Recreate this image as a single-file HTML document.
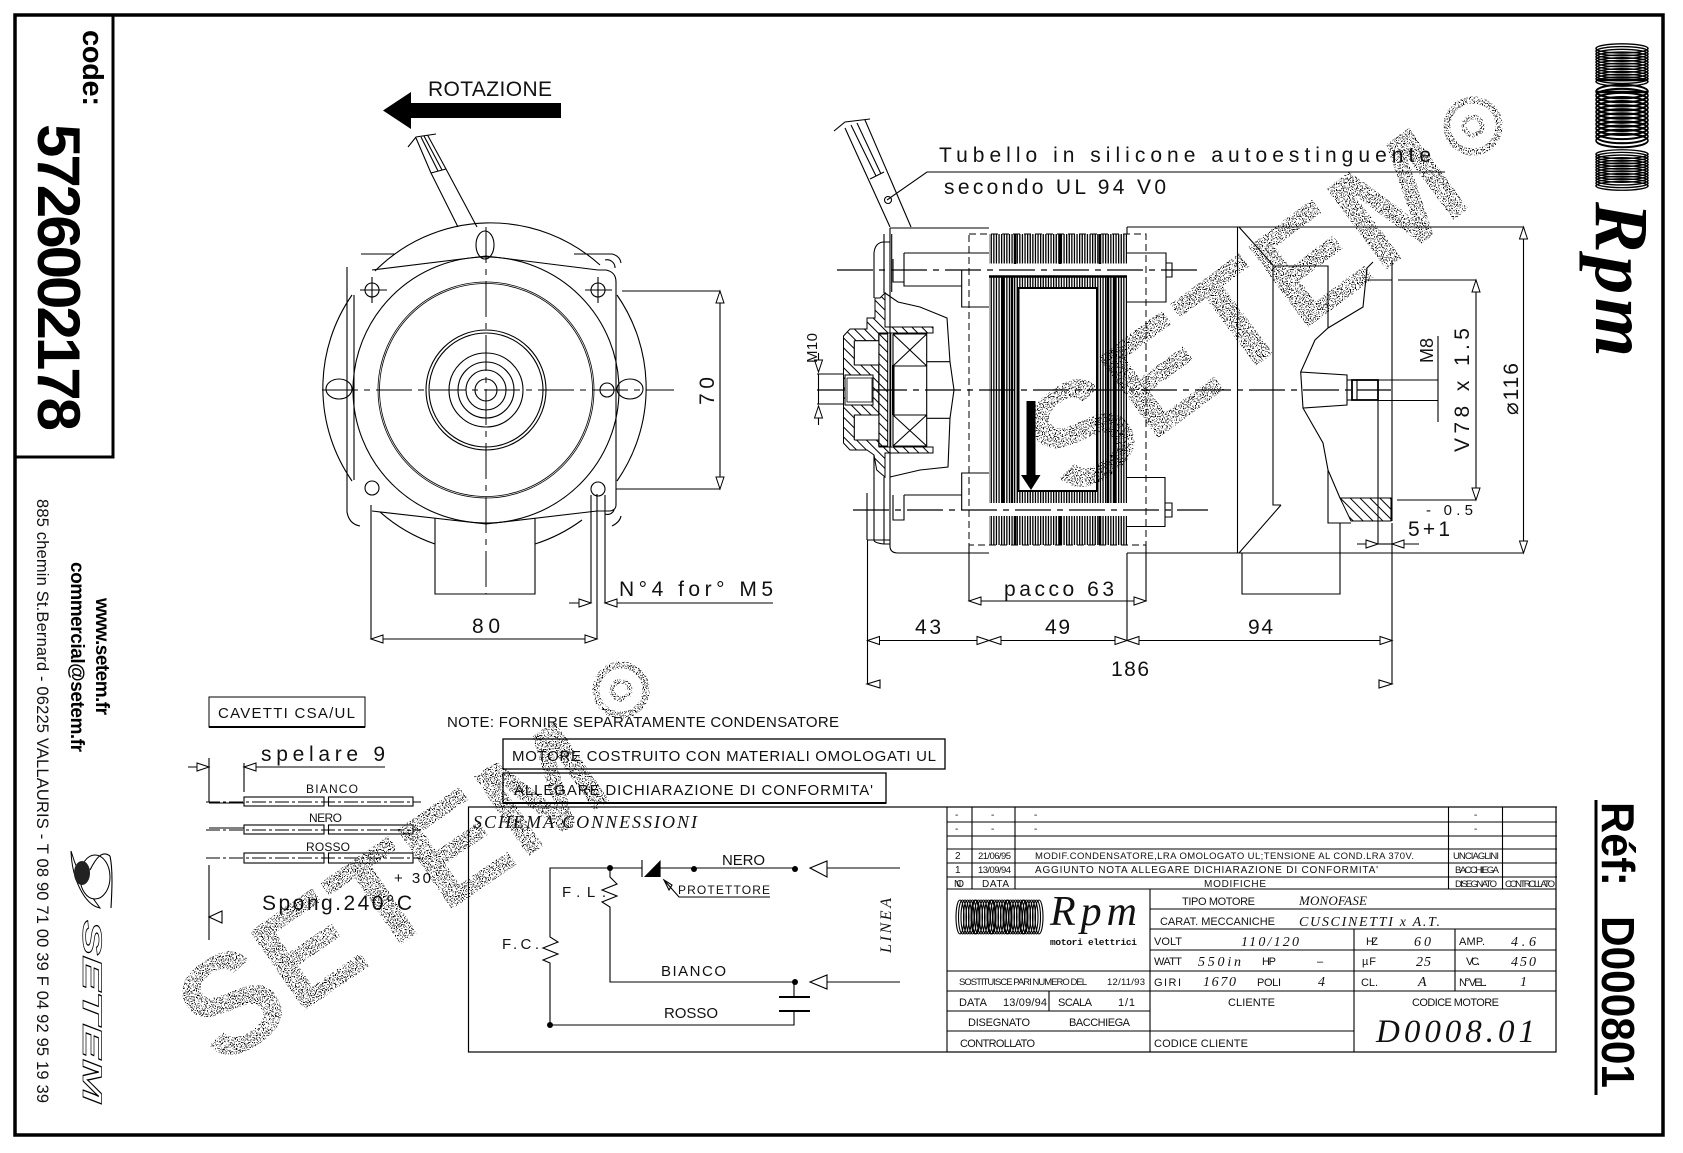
<!DOCTYPE html>
<html><head><meta charset="utf-8"><style>
html,body{margin:0;padding:0;background:#fff}
svg{display:block}
.l{fill:none;stroke:#000;stroke-width:1.1}
.t{fill:none;stroke:#000;stroke-width:.8}
.cl{fill:none;stroke:#000;stroke-width:1;stroke-dasharray:36 6 6 6}
.ds{fill:none;stroke:#000;stroke-width:1;stroke-dasharray:7 4}
text{font-family:"Liberation Sans",sans-serif;fill:#111}
.b{font-weight:700;fill:#000}
.c{font-size:21px}.m{font-size:15px}.s{font-size:12px}.x{font-size:9.5px}.y{font-size:11px}
.i{font-family:"Liberation Serif",serif;font-style:italic}
.st{font-weight:700;fill:#000}
</style></head><body>
<svg xmlns="http://www.w3.org/2000/svg" width="1683" height="1153" viewBox="0 0 1683 1153">
<defs>
<marker id="a" markerUnits="userSpaceOnUse" markerWidth="16" markerHeight="12" refX="13" refY="5" orient="auto-start-reverse"><path d="M13 5L1 1V9Z" fill="#fff" stroke="#000"/></marker>
<pattern id="vl" width="2.6" height="8" patternUnits="userSpaceOnUse"><rect width="1.3" height="8" fill="#000"/></pattern>
<pattern id="hd" width="7" height="7" patternUnits="userSpaceOnUse" patternTransform="rotate(-45)"><rect width="1" height="7" fill="#000"/></pattern>
<filter id="sp" x="-5%" y="-5%" width="110%" height="110%" color-interpolation-filters="sRGB">
<feTurbulence type="fractalNoise" baseFrequency="0.85" numOctaves="1" seed="7"/>
<feColorMatrix values="0 0 0 0 0 0 0 0 0 0 0 0 0 0 0 20 0 0 0 -11"/>
<feComposite in2="SourceAlpha" operator="in"/>
</filter>
<g id="coil" style="fill:none;stroke:#000;stroke-width:1.5">
<ellipse cx="0" cy="-18" rx="26" ry="5"/><ellipse cx="0" cy="-15" rx="26" ry="5"/><ellipse cx="0" cy="-12" rx="26" ry="5"/><ellipse cx="0" cy="-9" rx="26" ry="5"/><ellipse cx="0" cy="-6" rx="26" ry="5"/><ellipse cx="0" cy="-3" rx="26" ry="5"/><ellipse cx="0" cy="0" rx="26" ry="5"/><ellipse cx="0" cy="3" rx="26" ry="5"/><ellipse cx="0" cy="6" rx="26" ry="5"/><ellipse cx="0" cy="9" rx="26" ry="5"/><ellipse cx="0" cy="12" rx="26" ry="5"/><ellipse cx="0" cy="15" rx="26" ry="5"/><ellipse cx="0" cy="18" rx="26" ry="5"/>
</g>
<g id="hc" style="fill:none;stroke:#000;stroke-width:1.1">
<ellipse cx="-8" cy="0" rx="4" ry="17"/><ellipse cx="-5.500" cy="0" rx="4" ry="17"/><ellipse cx="-3" cy="0" rx="4" ry="17"/><ellipse cx="-.5" cy="0" rx="4" ry="17"/><ellipse cx="2" cy="0" rx="4" ry="17"/><ellipse cx="4.500" cy="0" rx="4" ry="17"/><ellipse cx="7" cy="0" rx="4" ry="17"/>
</g>
</defs>
<rect width="1683" height="1153" fill="#fff"/>

<!-- frame -->
<rect x="15" y="15" width="1648" height="1120" fill="none" stroke="#000" stroke-width="3.5"/>
<path d="M113 15V457H15" fill="none" stroke="#000" stroke-width="3"/>
<text class="b" transform="translate(83,30) rotate(90)" font-size="29" textLength="76">code:</text>
<text class="b" transform="translate(38,124) rotate(90)" font-size="60" textLength="307">5726002178</text>
<text transform="translate(37,499) rotate(90)" font-size="16.5" textLength="604">885 chemin St.Bernard - 06225 VALLAURIS - T 08 90 71 00 39 F 04 92 95 19 39</text>
<text class="b" transform="translate(71,562) rotate(90)" font-size="19" textLength="190">commercial@setem.fr</text>
<text class="b" transform="translate(96,598) rotate(90)" font-size="19" textLength="117">www.setem.fr</text>
<!-- bird logo -->
<path d="M71 851C72 880 85 905 100 908C90 895 78 875 71 851Z" fill="#fff" stroke="#000"/>
<ellipse cx="95" cy="877" rx="15" ry="22" fill="#fff" stroke="#000"/>
<ellipse cx="82" cy="873" rx="8" ry="12" fill="#222"/>
<path d="M110 856C102 850 96 858 90 870M110 856C113 870 112 890 111 908" class="l"/>
<text class="b" transform="translate(83,920) rotate(90)" font-size="27" font-style="italic" textLength="183" lengthAdjust="spacingAndGlyphs" style="fill:none;stroke:#000;stroke-width:.7">SETEM</text>

<!-- right logo -->
<use href="#coil" transform="translate(1622,65) scale(1,.92)"/>
<use href="#coil" transform="translate(1622,116) scale(1,1.36)"/>
<use href="#coil" transform="translate(1622,170) scale(1,.88)"/>
<path d="M1596 80H1648M1596 92H1648" stroke="#000" stroke-width="2.500" fill="none"/>
<text class="b i" transform="translate(1596,202) rotate(90)" font-size="76" textLength="155" style="fill:#000">Rpm</text>
<text class="b" transform="translate(1602,802) rotate(90)" font-size="46" textLength="84" lengthAdjust="spacingAndGlyphs">Réf:</text>
<text class="b" transform="translate(1602,916) rotate(90)" font-size="46" textLength="172" lengthAdjust="spacingAndGlyphs">D000801</text>
<path d="M1596 800V1095" stroke="#000" stroke-width="3" fill="none"/>

<!-- ROTAZIONE -->
<text class="c" x="428" y="96" textLength="124">ROTAZIONE</text>
<path d="M561 103H411V92L383 110.5L411 129V118H561Z" fill="#000"/>

<!-- front view -->
<g class="l">
<path d="M352 295A163 163 0 0 0 352 481M375 271A163 163 0 0 1 600 265M617 295A163 163 0 0 1 617 481M380 512A163 163 0 0 0 435 544M535 544A163 163 0 0 0 582 520"/>
<circle cx="486" cy="390" r="133"/>
<circle cx="486" cy="390" r="60"/><circle cx="486" cy="390" r="57"/><circle cx="486" cy="390" r="37"/><circle cx="486" cy="390" r="28"/><circle cx="486" cy="390" r="20"/><circle cx="486" cy="390" r="11"/>
<ellipse cx="485" cy="245" rx="9" ry="14"/><ellipse cx="339" cy="389" rx="13" ry="10"/><ellipse cx="630" cy="389" rx="13" ry="10"/><circle cx="607" cy="390" r="7"/>
<circle cx="372" cy="290" r="7"/><circle cx="598" cy="290" r="7"/><circle cx="372" cy="488" r="7"/><circle cx="598" cy="489" r="7"/>
<path d="M372 270L486 256L598 270H606Q616 272 616 282V505Q616 510 610 511H597L486 524L372 511M354 295V480"/>
<path d="M347 267V512Q349 524 360 526M361 254H395M574 254H612Q620 256 621 263M612 526Q620 522 621 516M605 260a8 8 0 0 1 10 8M605 514a7 7 0 0 0 9 -4"/>
<path d="M435 518V594H535V518"/>
<path d="M458 227L431 173M477 227L446 169M431 173L416 138M446 169L427.500 135M408 147L416 137L436 134M421 137L438 171M424 136L442 170M431 173L446 169"/>
<path d="M360 290h27M372 277v26M585 290h27M598 277v26"/>
<path d="M622 291H720M616 489H720M371 505V639M597 494V639M591 495V603M605 495V603"/>
<path d="M720 291V489" marker-start="url(#a)" marker-end="url(#a)"/>
<path d="M371 639H597" marker-start="url(#a)" marker-end="url(#a)"/>
<path d="M569 603H591" marker-end="url(#a)"/>
<path d="M773 603H605" marker-end="url(#a)"/>
</g>
<circle cx="486" cy="390" r="108" fill="none" stroke="#000" stroke-width=".8"/><circle cx="486" cy="390" r="106.500" fill="none" stroke="#000" stroke-width=".8"/>
<path class="cl" d="M486 227V594M322 390H674"/>
<text class="c" transform="translate(714,405) rotate(-90)" textLength="28">70</text>
<text class="c" x="472" y="633" textLength="28">80</text>
<text class="c" x="619" y="596" textLength="154">N°4 for° M5</text>

<!-- side view -->
<g class="l">
<path d="M890 228H989M989 553H898Q890 553 890 546V228M884 234V293M891.700 234V292M884 477V544H890"/>
<path d="M874 298V253Q875 243 883 242H890M874 455V540Q874 543 884 544"/>
<path d="M867 493V540"/>
<path d="M885 293L898 302L920 307L947 318L950 362L954 390L950 418L948 467L920 470L890 477"/>
<path d="M1127 227H1237.500V553H1127M1127 234V227M1237.500 227H1523.500M1237.500 553H1523.500"/>
<path d="M1239 227L1273 265M1239 553L1281 505M1273 265V505H1281"/>
<path d="M1273 266H1328V328M1392 260V521M1366 280H1392M1373 262L1367 268L1363 307L1328 328L1315 340L1300.700 372L1347 375V405L1303 408L1300.700 372M1303 408L1323 443L1328 470L1340 498M1328 470V523H1351M1340 523V594H1242V553"/>
<path d="M1347 380H1352M1347 400H1352"/>
<rect x="1352" y="380" width="26" height="20" stroke-width="1.800"/><path d="M1357 380V400M1378 400V544"/>
<path d="M904 253H989M904 253V286H961.700M893 259V282H904M961.700 270V307H989M904 495H961.700V473H989M961.700 495V510M904 495V520H893V495"/>
<path d="M1127 253H1166V302H1127M1166 263H1172V277H1166M1127 477.500H1165V526.500H1127M1165 503H1172V517H1165"/>
<path d="M867 540H890"/>
<path d="M1398 280H1476M1397 500H1476M1378 380H1438M1378 400.500H1438M1438 336V422"/>
<path d="M1476 280V500" marker-start="url(#a)" marker-end="url(#a)"/>
<path d="M1523.500 227V553" marker-start="url(#a)" marker-end="url(#a)"/>
<path d="M1357 544H1378" marker-end="url(#a)"/>
<path d="M1419 544H1392" marker-end="url(#a)"/>
<path d="M1378 544H1392"/>
<path d="M1445 172H927L887 200"/>
<circle cx="888" cy="200" r="3.500"/>
<path d="M890 227L845 128M911 227L865 120M834 131L845 122L870 119M851 125L876 176M857 123L881 174M870 179L884 172"/>
<path d="M969 545V601M1146 545V601M1127 553V640M867.500 540V684M1392 523V684"/>
<path d="M969 601H1146" marker-start="url(#a)" marker-end="url(#a)"/>
<path d="M867.500 640.500H989" marker-start="url(#a)" marker-end="url(#a)"/>
<path d="M989 640.500H1127" marker-start="url(#a)" marker-end="url(#a)"/>
<path d="M1127 640.500H1392" marker-start="url(#a)" marker-end="url(#a)"/>
<path d="M867 684l13-4v8zM1392 684l-13-4v8z" fill="#fff"/>
<path d="M817 374H843M817 404H843M818.500 374V404"/>
<path d="M818.500 353V372" marker-end="url(#a)"/>
<path d="M818.500 425V406" marker-end="url(#a)"/>
</g>
<!-- laminations -->
<rect x="989" y="234" width="138" height="29.500" fill="url(#vl)"/>
<rect x="989" y="516" width="138" height="29" fill="url(#vl)"/>
<path d="M989 275.500H1127V503H989ZM1018.500 288V491H1097V288Z" fill="url(#vl)" fill-rule="evenodd"/>
<rect x="1018.500" y="288" width="78.500" height="203" fill="none" stroke="#000" stroke-width="2"/>
<path d="M989 276.500H1127" stroke="#000" stroke-width="2.500"/>
<path d="M1003 276V503M1012 276V503M1108 276V503M1115 276V503M1015 234V264M1060 234V264M1100 234V264M1015 516V545M1060 516V545M1100 516V545" stroke="#000" stroke-width="2.500"/>
<path d="M1026.500 401H1035.500V475H1040.500L1031 490L1021 475H1026.500Z" fill="#000"/>
<path class="ds" d="M969 234H1146V545H969Z"/>
<path class="cl" d="M837 270H1203M853 510H1208M817 390H1391" style="stroke-width:1.200"/>
<!-- bearing section -->
<path d="M843.500 336L850 329H867V318H875V298H880L885 293V327H933V333H879V447H933V453H885V477L876.700 470L874 455L867 450H850L843.500 443Z" fill="url(#hd)" stroke="#000"/>
<rect x="878.700" y="334" width="9" height="112" fill="url(#hd)" stroke="#000"/>
<rect x="854.300" y="340.700" width="24" height="24.300" fill="#fff"/>
<rect x="854.300" y="415" width="24" height="25" fill="#fff"/>
<rect x="845" y="375" width="28" height="30" fill="#fff" stroke="#000"/>
<rect x="847" y="378" width="25" height="24" fill="none" stroke="#000" stroke-width=".8"/>
<g class="l"><path d="M854.300 340.700H878.700M854.300 340.700V365H878.700M854.300 440V415H878.700M854.300 440H878.700"/>
<path d="M890.700 333V447M893 334H926.700V366H893M893 334V446M893 415H926.700V446H893M893 366V415M926.700 366V415M893 334L926.700 366M926.700 334L893 366M893 415L926.700 446M926.700 415L893 446M926.700 361.700H950M926.700 418.300H950"/>
</g>
<rect x="892" y="365" width="2.500" height="50" fill="#000"/>
<!-- bottom hatch -->
<path d="M1340 498H1391V521H1351Z" fill="url(#hd)" stroke="#000"/>

<text class="c" x="939" y="162" textLength="492">Tubello in silicone autoestinguente</text>
<text class="c" x="944" y="194" textLength="222">secondo UL 94 V0</text>
<text class="c" x="1004" y="596" textLength="110">pacco 63</text>
<text class="c" x="915" y="634" textLength="26">43</text>
<text class="c" x="1045" y="634" textLength="25">49</text>
<text class="c" x="1248" y="634" textLength="25">94</text>
<text class="c" x="1111" y="676" textLength="38">186</text>
<text class="m" transform="translate(817,363) rotate(-90)" textLength="30">M10</text>
<text style="font-size:18px" transform="translate(1433,363) rotate(-90)" textLength="25">M8</text>
<text class="c" transform="translate(1469,452) rotate(-90)" textLength="124">V78 x 1.5</text>
<text class="c" transform="translate(1518,415) rotate(-90)" textLength="52">⌀116</text>
<text class="m" x="1426" y="515" textLength="47">- 0.5</text>
<text class="c" x="1408" y="536" textLength="42">5 + 1</text>

<!-- cables -->
<rect x="209" y="697" width="156" height="30" fill="none" stroke="#000"/><path d="M209 727H365" stroke="#000" stroke-width="2"/>
<text class="m" x="218" y="718" textLength="137">CAVETTI CSA/UL</text>
<text class="m" x="447" y="727" textLength="392">NOTE: FORNIRE SEPARATAMENTE CONDENSATORE</text>
<rect x="503" y="739" width="442" height="30" fill="none" stroke="#000" stroke-width="1.300"/>
<text class="m" x="512" y="761" textLength="424">MOTORE COSTRUITO CON MATERIALI OMOLOGATI UL</text>
<rect x="503" y="773" width="383" height="30" fill="none" stroke="#000" stroke-width="1.300"/><path d="M503 803H886" stroke="#000" stroke-width="2"/>
<text class="m" x="514" y="795" textLength="359">ALLEGARE DICHIARAZIONE DI CONFORMITA'</text>
<text class="c" x="261" y="761" textLength="124">spelare 9</text>
<g class="l">
<path d="M188 767H209" marker-end="url(#a)"/><path d="M385 767H244" marker-end="url(#a)"/>
<path d="M209 758V802M244 763V792"/>
<rect x="244" y="797" width="80" height="9"/><rect x="328.500" y="797" width="84.500" height="9"/>
<rect x="244" y="825" width="80" height="9"/><rect x="328.500" y="825" width="84.500" height="9"/>
<rect x="244" y="853" width="80" height="10"/><rect x="328.500" y="853" width="84.500" height="10"/>
<path d="M209 865V940M209 917L222 911V923Z"/>
</g>
<path class="cl" d="M206 802H421M206 830H421M206 858H421" style="stroke-dasharray:14 3 3 3"/>
<path d="M209 803H244M209 828H244" stroke="#000"/>
<text class="s" x="306" y="793" textLength="52">BIANCO</text>
<text class="s" x="309" y="822" textLength="33">NERO</text>
<text class="s" x="306" y="851" textLength="44">ROSSO</text>
<text class="m" x="394" y="883" textLength="37">+ 30</text>
<text class="c" x="262" y="910" textLength="150">Spong.240°C</text>

<!-- schema -->
<rect x="468.500" y="807" width="1087.500" height="245" fill="none" stroke="#000" stroke-width="1.200"/>
<text class="i" x="473" y="828" font-size="18" textLength="224">SCHEMA CONNESSIONI</text>
<g class="l">
<path d="M642 868H550V937L558 942L543 948L558 954L543 960L550 963V1025H794V1011M794 997V982H610V907L602 902L617 896L602 890L617 884L610 877V868M660 868H795" />
<path d="M827 868H900M827 982H900M810 868L827 861V877ZM810 982L827 975V989Z"/>
<path d="M642 860V877M770 897H679L664 880"/>
<path d="M664 880l8 5l-3 5Z"/>
</g>
<path d="M779 997H810M779 1011H810" stroke="#000" stroke-width="2"/>
<path d="M644 877H660.600V860Z" fill="#000"/>
<circle cx="610" cy="868" r="3" /><circle cx="694" cy="869" r="3"/><circle cx="795" cy="869" r="3"/><circle cx="795" cy="982" r="3"/><circle cx="550" cy="1025" r="3"/>
<text class="m" x="722" y="865" textLength="43">NERO</text>
<text class="s" x="678" y="894" textLength="92">PROTETTORE</text>
<text class="m" x="562" y="897" textLength="44">F.L.</text>
<text class="m" x="502" y="949" textLength="37">F.C.</text>
<text class="m" x="661" y="976" textLength="65">BIANCO</text>
<text class="m" x="664" y="1018" textLength="54">ROSSO</text>
<text class="i" transform="translate(891,953) rotate(-90)" font-size="16" textLength="55">LINEA</text>

<!-- title block -->
<g class="l" style="stroke-width:1.100">
<path d="M947 807V1052M972 807V889M1015 807V889M1448.500 807V889M1502.500 807V889"/>
<path d="M947 807H1557M947 822H1557M947 836H1557M947 849H1557M947 863H1557M947 877H1557M947 889H1556"/>
<path d="M1150 889V1052M1150 909H1556M1150 929H1556M1150 950H1556M947 971H1556M947 991H1556M947 1011H1150M947 1031H1354M1354 929V1052M1455 929V991M1049 991V1011"/>
</g>
<g class="y" style="font-size:10px">
<text x="955" y="818">-</text><text x="991" y="818">-</text><text x="1034" y="818">-</text><text x="1474" y="818">-</text>
<text x="955" y="832">-</text><text x="991" y="832">-</text><text x="1034" y="832">-</text><text x="1474" y="832">-</text>
<text x="955" y="859">2</text><text class="x" x="978" y="859" textLength="33">21/06/95</text><text class="x" x="1035" y="859" textLength="379">MODIF.CONDENSATORE,LRA OMOLOGATO UL;TENSIONE AL COND.LRA 370V.</text><text class="x" x="1453" y="859" textLength="46">UNCIAGLINI</text>
<text x="955" y="873">1</text><text class="x" x="978" y="873" textLength="33">13/09/94</text><text x="1035" y="873" textLength="343">AGGIUNTO NOTA ALLEGARE DICHIARAZIONE DI CONFORMITA'</text><text class="x" x="1455" y="873" textLength="44">BACCHIEGA</text>
<text x="954" y="887" textLength="10">NO</text><text x="982" y="887" textLength="27">DATA</text><text x="1204" y="887" textLength="62">MODIFICHE</text><text class="x" x="1455" y="887" textLength="42">DISEGNATO</text><text class="x" x="1505" y="887" textLength="50">CONTROLLATO</text>
</g>
<use href="#hc" transform="translate(968,917)"/><use href="#hc" transform="translate(984,917)"/><use href="#hc" transform="translate(1000,917)"/><use href="#hc" transform="translate(1016,917)"/><use href="#hc" transform="translate(1032,917)"/>
<text class="i" x="1050" y="925" font-size="42" textLength="87">Rpm</text>
<text x="1050" y="945" style="font-family:'Liberation Mono',monospace;font-weight:700;font-size:9.500px" textLength="87">motori elettrici</text>
<g class="y">
<text x="1182" y="905" textLength="73">TIPO MOTORE</text><text class="i" style="font-size:13px" x="1299" y="905" textLength="68">MONOFASE</text>
<text x="1160" y="925" textLength="115">CARAT. MECCANICHE</text><text class="i" style="font-size:14px" x="1299" y="926" textLength="141">CUSCINETTI x A.T.</text>
<text x="1154" y="945" textLength="28">VOLT</text><text class="i" style="font-size:14px" x="1241" y="946" textLength="58">110/120</text><text x="1366" y="945" textLength="12">HZ</text><text class="i" style="font-size:14px" x="1414" y="946" textLength="17">60</text><text x="1459" y="945" textLength="26">AMP.</text><text class="i" style="font-size:14px" x="1511" y="946" textLength="25">4.6</text>
<text x="1154" y="965" textLength="28">WATT</text><text class="i" style="font-size:14px" x="1198" y="966" textLength="43">550in</text><text x="1262" y="965" textLength="14">HP</text><text x="1317" y="965">–</text><text x="1362" y="965" textLength="14">µF</text><text class="i" style="font-size:14px" x="1416" y="966" textLength="15">25</text><text x="1466" y="965" textLength="14">VC.</text><text class="i" style="font-size:14px" x="1511" y="966" textLength="25">450</text>
<text x="1154" y="986" textLength="27">GIRI</text><text class="i" style="font-size:14px" x="1203" y="986" textLength="33">1670</text><text x="1257" y="986" textLength="24">POLI</text><text class="i" style="font-size:14px" x="1318" y="986">4</text><text x="1361" y="986" textLength="17">CL.</text><text class="i" style="font-size:14px" x="1418" y="986">A</text><text x="1459" y="986" textLength="28">N° VEL.</text><text class="i" style="font-size:14px" x="1520" y="986">1</text>
<text class="x" x="959" y="985" textLength="128">SOSTITUISCE PARI NUMERO DEL</text><text class="x" x="1107" y="985" textLength="38">12/11/93</text>
<text x="959" y="1006" textLength="28">DATA</text><text x="1003" y="1006" textLength="44">13/09/94</text><text x="1058" y="1006" textLength="34">SCALA</text><text x="1118" y="1006" textLength="17">1/1</text>
<text x="968" y="1026" textLength="62">DISEGNATO</text><text x="1069" y="1026" textLength="61">BACCHIEGA</text>
<text x="960" y="1047" textLength="75">CONTROLLATO</text><text x="1154" y="1047" textLength="94">CODICE CLIENTE</text>
<text x="1228" y="1006" textLength="47">CLIENTE</text><text x="1412" y="1006" textLength="87">CODICE MOTORE</text>
</g>
<text class="i" x="1376" y="1042" font-size="33" textLength="159">D0008.01</text>

<!-- watermarks -->
<g filter="url(#sp)">
<text class="st" font-size="146" transform="translate(1072,502) rotate(-36.500)">SETEM</text>
<circle cx="1473" cy="126" r="26" fill="none" stroke="#000" stroke-width="7"/><circle cx="1473" cy="126" r="9" fill="none" stroke="#000" stroke-width="5"/>
</g>
<g filter="url(#sp)">
<text class="st" font-size="140" transform="translate(220,1069) rotate(-34.600)">SETEM</text>
<circle cx="621" cy="690" r="25" fill="none" stroke="#000" stroke-width="7"/><circle cx="621" cy="690" r="9" fill="none" stroke="#000" stroke-width="5"/>
</g>
</svg>
</body></html>
